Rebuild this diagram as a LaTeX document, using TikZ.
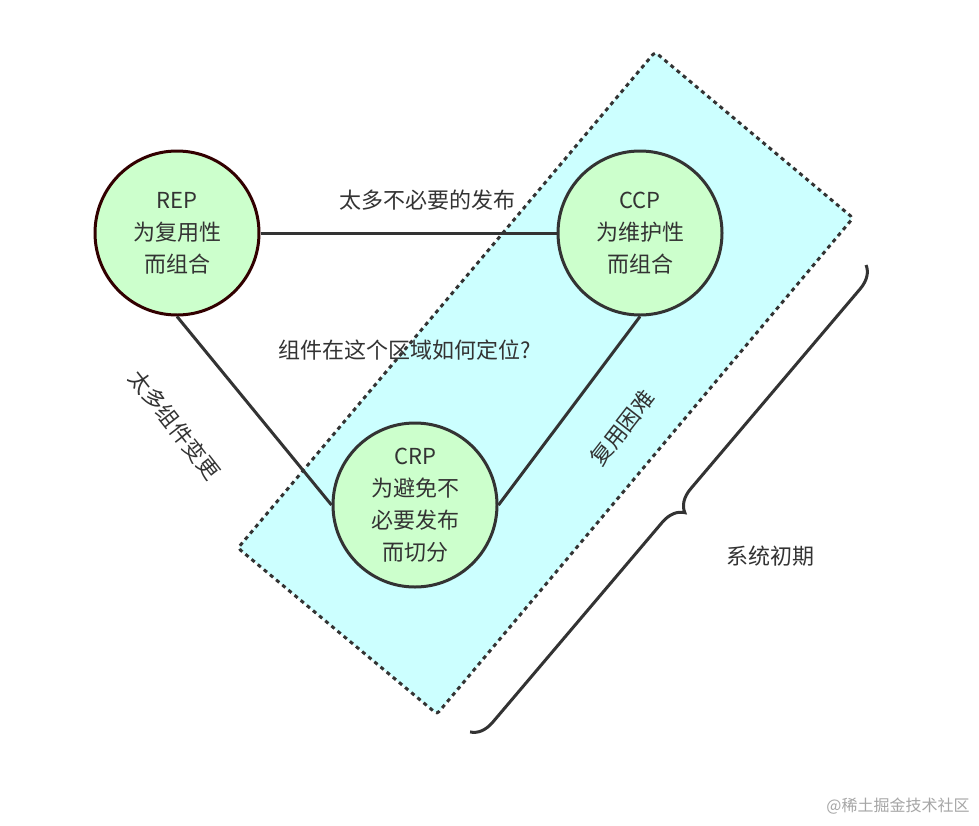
\documentclass[tikz,border=0pt]{standalone}
\usepackage{fontspec}
\setmainfont{Noto Sans CJK SC}
\usetikzlibrary{decorations.pathreplacing}
\definecolor{cfill}{HTML}{CCFFCC}
\definecolor{zone}{HTML}{CCFFFF}
\definecolor{ink}{HTML}{333333}
\tikzset{
  circ/.style={circle,draw=ink,line width=3pt,fill=cfill,minimum size=164pt,align=center,font=\fontsize{22}{32}\selectfont,text=ink,inner sep=0pt},
  lab/.style={font=\fontsize{22}{26}\selectfont,text=ink},
  link/.style={draw=ink,line width=3pt}
}
\begin{document}
\begin{tikzpicture}[x=1pt,y=-1pt]
\useasboundingbox (0,0) rectangle (979,825);
\fill[white] (0,0) rectangle (979,825);
\coordinate (z1) at (238,548);
\coordinate (z2) at (655,52);
\coordinate (z3) at (853,218);
\coordinate (z4) at (437,714);
\filldraw[fill=zone,draw=ink,line width=3pt,dash pattern=on 4pt off 4pt,rounded corners=3pt] (z1)--(z2)--(z3)--(z4)--cycle;
\node[circ,draw={rgb,255:red,50;green,0;blue,0}] (rep) at (177,233) {REP\\为复用性\\而组合};
\node[circ] (ccp) at (640,233) {CCP\\为维护性\\而组合};
\node[circ] (crp) at (415,505) {CRP\\为避免不\\必要发布\\而切分};
\draw[link] (rep.east) -- (ccp.west);
\draw[link] (rep.south) -- (crp.west);
\draw[link] (ccp.south) -- (crp.east);
\node[lab] (t1) at (427,200) {太多不必要的发布};
\node[lab] (t2) at (405,350) {组件在这个区域如何定位?};
\node[lab,rotate=-52] (t3) at (175,425) {太多组件变更};
\node[lab,rotate=52] (t4) at (622,428) {复用困难};
\coordinate (b1) at (866,265);
\coordinate (b2) at (470,732);
\draw[ink,line width=3pt,decorate,decoration={brace,amplitude=22pt}] (b1) -- (b2);
\node[lab] (t5) at (770,556) {系统初期};
\node[font=\fontsize{16}{18}\selectfont,text=gray!70] (wm) at (898,806) {@稀土掘金技术社区};
\end{tikzpicture}
\end{document}
